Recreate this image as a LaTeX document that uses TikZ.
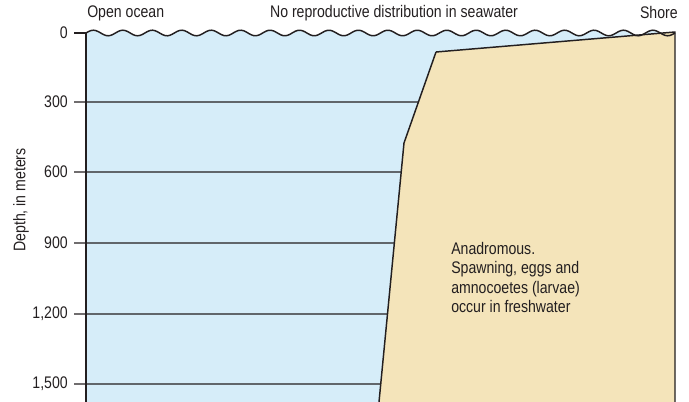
\documentclass[tikz,border=0pt]{standalone}
\usepackage{fontspec}
\setmainfont{Liberation Sans}[FakeStretch=0.84]
\usepackage{tikz}
\usetikzlibrary{calc,intersections}
\definecolor{sea-fill}{HTML}{D6EDF9}
\definecolor{land-fill}{HTML}{F4E4BA}
\definecolor{ink}{HTML}{231F20}

\begin{document}
\begin{tikzpicture}[x=0.75pt, y=-0.75pt, font=\fontsize{12.6}{14.5}\selectfont, text=ink]

  % Styles
  \tikzset{
    edge/.style={draw=ink, line width=1.1pt, line join=round},
    grid/.style={draw=ink, line width=0.85pt},
    label/.style={inner sep=0pt, text=ink}
  }

  \useasboundingbox (0,0) rectangle (689,402);

  % Water body with wavy surface
  \fill[sea-fill] (86,33)
      -- plot[domain=86:675, samples=240] (\x, {33-2.8*sin((\x-86)/29.45*360)})
      -- (675,402) -- (86,402) -- cycle;

  % Land (coast profile)
  \coordinate (shore) at (675,32);
  \coordinate (shelf) at (436,52);
  \coordinate (slope) at (404,143);
  \coordinate (foot)  at (379,402);
  \fill[land-fill] (shore) -- (shelf) -- (slope) -- (foot) -- (675,402) -- cycle;
  \path[name path=coast] (shore) -- (shelf) -- (slope) -- (foot);

  % Depth lines and ticks
  \draw[grid] (74,33) -- (86,33);
  \node[label, anchor=east] (d0) at (68,33) {0};
  \foreach \y/\lab in {102/300, 172/600, 243/900, 314/{1,200}, 384/{1,500}} {
    \path[name path=hline] (74,\y) -- (700,\y);
    \draw[grid, name intersections={of=coast and hline}] (74,\y) -- (intersection-1);
    \node[label, anchor=east] (d\y) at (68,\y) {\lab};
  }

  % Outlines
  \draw[edge] (86,402) -- (86,33);
  \draw[edge] (shelf) -- (shore) -- (675,402);
  \draw[edge] (shelf) -- (slope) -- (foot);
  \draw[edge] plot[domain=86:675, samples=240] (\x, {33-2.8*sin((\x-86)/29.45*360)});

  % Labels
  \node[label, anchor=west] (ocean) at (87,13) {Open ocean};
  \node[label] (nodist) at (394,13) {No reproductive distribution in seawater};
  \node[label, anchor=east] (shorelab) at (678,13) {Shore};
  \node[label, rotate=90] (depth) at (21,200) {Depth, in meters};
  \node[label, anchor=north west, align=left] (anadro) at (451,242)
      {Anadromous.\\Spawning, eggs and\\amnocoetes (larvae)\\occur in freshwater};

\end{tikzpicture}
\end{document}
